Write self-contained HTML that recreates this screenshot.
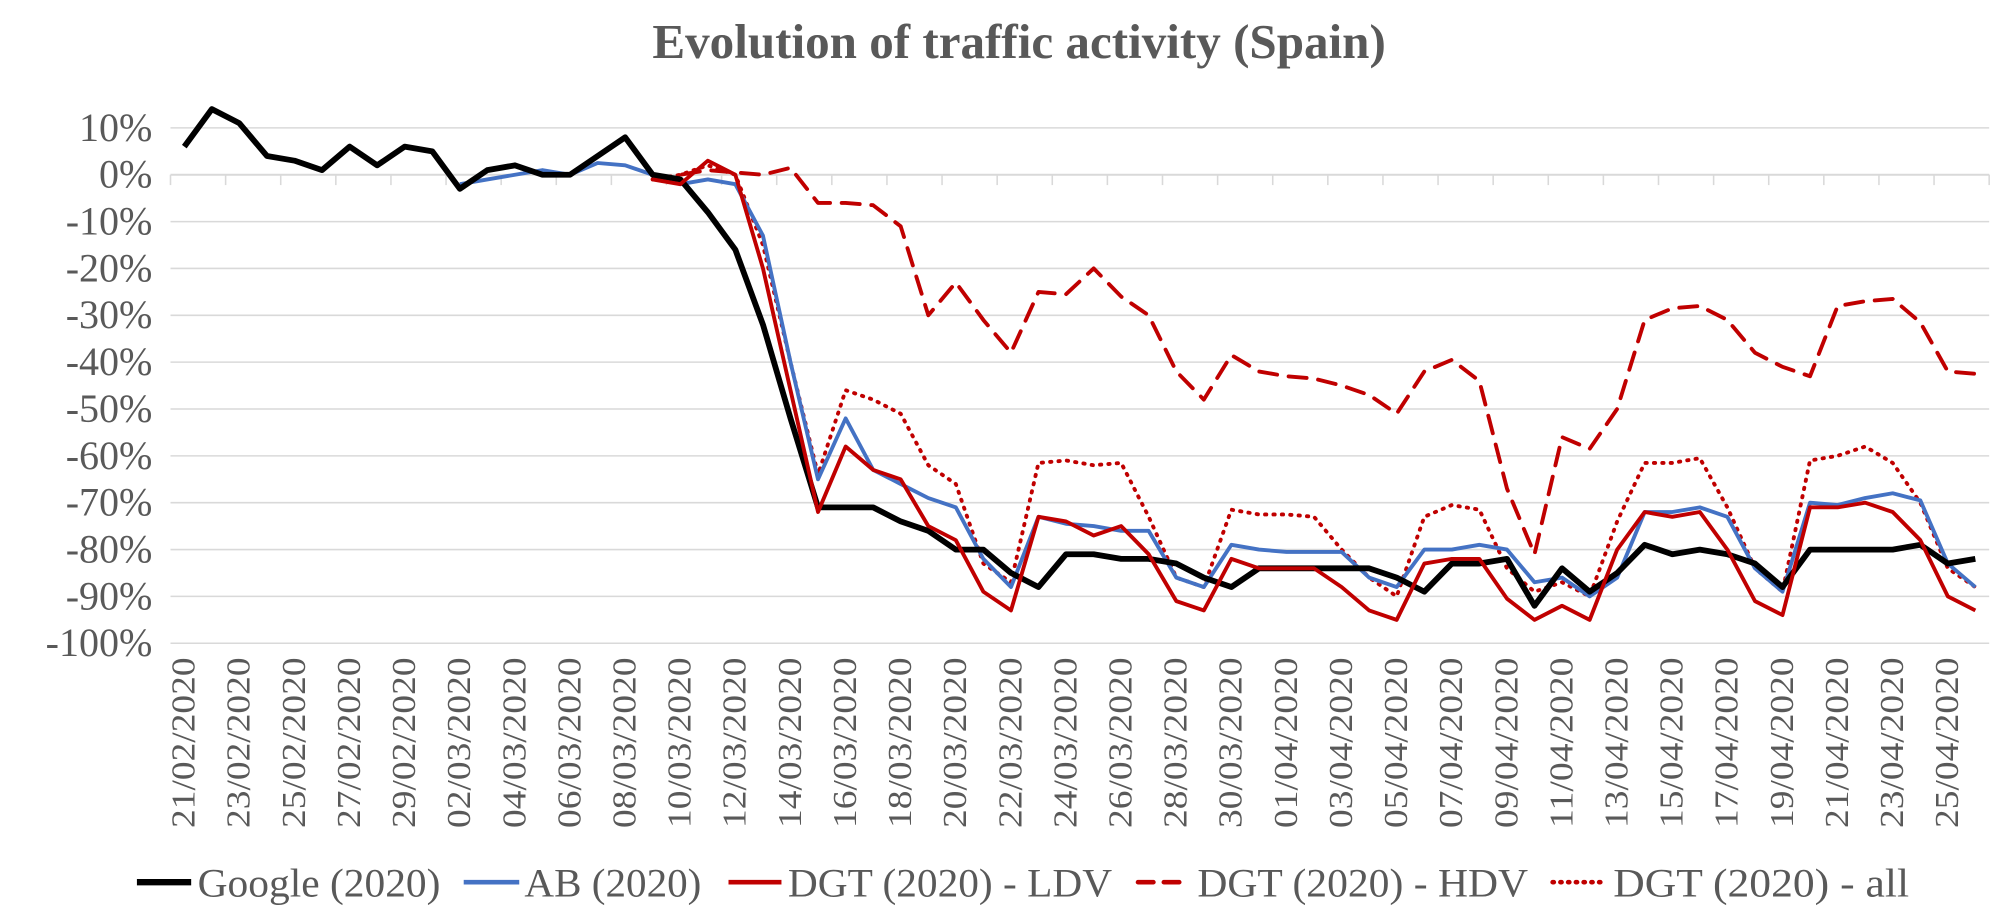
<!DOCTYPE html>
<html><head><meta charset="utf-8"><style>
html,body{margin:0;padding:0;background:#fff;}
svg{display:block;}
text{font-family:"Liberation Serif",serif;fill:#595959;}
</style></head><body>
<svg id="chart" width="2015" height="915" viewBox="0 0 1560 708.4" preserveAspectRatio="none" xmlns="http://www.w3.org/2000/svg">
<rect width="1560" height="708.4" fill="#fff"/>
<text x="789" y="45" text-anchor="middle" font-size="38" font-weight="bold">Evolution of traffic activity (Spain)</text>
<g id="grid"></g><g id="yticks"></g><g id="xaxis"></g><g id="series"></g><g id="legend"></g>
</svg>
<script>
const google=[6,14,11,4,3,1,6,2,6,5,-3,1,2,0,0,4,8,0,-1,-8,-16,-32,-52,-71,-71,-71,-74,-76,-80,-80,-85,-88,-81,-81,-82,-82,-83,-86,-88,-84,-84,-84,-84,-84,-86,-89,-83,-83,-82,-92,-84,-89,-85,-79,-81,-80,-81,-83,-88,-80,-80,-80,-80,-79,-83,-82];
const ab=[null,null,null,null,null,null,null,null,null,null,-2,-1,0,1,0,2.5,2,0,-2,-1,-2,-13,-40,-65,-52,-63,-66,-69,-71,-82,-88,-73,-74.5,-75,-76,-76,-86,-88,-79,-80,-80.5,-80.5,-80.5,-86,-88,-80,-80,-79,-80,-87,-86,-90,-86,-72,-72,-71,-73,-84,-89,-70,-70.5,-69,-68,-69.5,-83,-88];
const ldv=[null,null,null,null,null,null,null,null,null,null,null,null,null,null,null,null,null,-1,-2,3,0,-20,-46,-72,-58,-63,-65,-75,-78,-89,-93,-73,-74,-77,-75,-81,-91,-93,-82,-84,-84,-84,-88,-93,-95,-83,-82,-82,-90.5,-95,-92,-95,-80,-72,-73,-72,-80,-91,-94,-71,-71,-70,-72,-78,-90,-93];
const hdv=[null,null,null,null,null,null,null,null,null,null,null,null,null,null,null,null,null,-1,0,1,0.5,0,1.5,-6,-6,-6.5,-11,-30,-23,-31,-38,-25,-25.5,-20,-26,-30,-42,-48,-38.5,-42,-43,-43.5,-45,-47,-51,-42,-39.5,-44,-67,-81,-56,-58.5,-50,-31,-28.5,-28,-31,-38,-41,-43,-28,-27,-26.5,-31.5,-42,-42.5];
const allv=[null,null,null,null,null,null,null,null,null,null,null,null,null,null,null,null,null,-1,0,2,0,-15,-40,-64,-46,-48,-51,-62,-66,-83,-87,-61.5,-61,-62,-61.5,-73,-86,-88,-71.5,-72.5,-72.5,-73,-80,-86,-90,-73,-70.5,-71.5,-84,-89,-87,-90,-74,-61.5,-61.5,-60.5,-71,-84,-89,-61,-60,-58,-61.5,-70,-84,-88];
const yTicks=[10,0,-10,-20,-30,-40,-50,-60,-70,-80,-90,-100];
const startDate=[21,2,2020];
const NS="http://www.w3.org/2000/svg";
const N=google.length, L=132, R=1540;
const step=(R-L)/N;
const X=i=>L+step*(i+0.5);
const Y=v=>135.3-v*3.627;
function mk(tag,attrs,parent){const e=document.createElementNS(NS,tag);for(const k in attrs)e.setAttribute(k,attrs[k]);parent.appendChild(e);return e;}
const grid=document.getElementById('grid'),yt=document.getElementById('yticks'),xa=document.getElementById('xaxis'),sg=document.getElementById('series'),lg=document.getElementById('legend');
yTicks.forEach(t=>{
 const g=mk('line',{x1:L,x2:R,y1:Y(t),y2:Y(t),stroke:'#d9d9d9','stroke-width':1.2},grid);
 
 
 const tx=mk('text',{x:118,y:Y(t)+10,'text-anchor':'end','font-size':31},yt);
 tx.textContent=t+'%';
 
 
});
const dates=[];let d=new Date(startDate[2],startDate[1]-1,startDate[0]);
for(let i=0;i<N;i++){const dd=new Date(d.getTime()+i*86400000);dates.push(String(dd.getDate()).padStart(2,'0')+'/'+String(dd.getMonth()+1).padStart(2,'0')+'/'+dd.getFullYear());}
const ax=mk('line',{x1:L,x2:R,y1:Y(0),y2:Y(0),stroke:'#d9d9d9','stroke-width':1.5},xa);


for(let i=0;i<=N;i+=2){
 const tk=mk('line',{x1:L+step*i,x2:L+step*i,y1:Y(0),y2:Y(0)+8,stroke:'#d9d9d9','stroke-width':1.2},xa);
 
 
}
for(let i=0;i<N;i+=2){
 const x=X(i)+8,y=509;
 const tx=mk('text',{x:x,y:y,'text-anchor':'end','font-size':26,transform:`rotate(-90 ${x} ${y})`,textLength:132,lengthAdjust:'spacingAndGlyphs'},xa);
 tx.textContent=dates[i];
 
 
}
function path(arr){let s='',pen=false;arr.forEach((v,i)=>{if(v===null){pen=false;return;}s+=(pen?'L':'M')+X(i).toFixed(1)+' '+Y(v).toFixed(1);pen=true;});return s;}
const defs=[
 {arr:allv,color:'#c00000',w:3,dash:'1 5.5',cap:'round',name:'series-dgt-all',label:'DGT (2020) - all'},
 {arr:hdv,color:'#c00000',w:3,dash:'14 9',cap:'round',name:'series-dgt-hdv',label:'DGT (2020) - HDV'},
 {arr:ab,color:'#4472c4',w:3,dash:'',cap:'butt',name:'series-ab',label:'AB (2020)'},
 {arr:google,color:'#000',w:4.5,dash:'',cap:'butt',name:'series-google',label:'Google (2020)'},
 {arr:ldv,color:'#c00000',w:3,dash:'',cap:'butt',name:'series-dgt-ldv',label:'DGT (2020) - LDV'}
];
defs.forEach(s=>{
 const p=mk('path',{d:path(s.arr),fill:'none',stroke:s.color,'stroke-width':s.w,'stroke-linejoin':'round','stroke-linecap':s.cap},sg);
 if(s.dash)p.setAttribute('stroke-dasharray',s.dash);
 
 
});
const leg=[[3,106,148,153,188,''],[2,359,402,406,137,''],[4,564,605,610,251,''],[1,881,919,927,256,'12 8'],[0,1202,1242,1249,229,'1 5']];
leg.forEach(([k,x1,x2,tx,tl,da])=>{
 const s=defs[k];
 const g=mk('g',{},lg);
 
 
 const l=mk('line',{x1:x1,x2:x2,y1:683,y2:683,stroke:s.color,'stroke-width':s.w+0.5,'stroke-linecap':s.cap},g);
 if(da)l.setAttribute('stroke-dasharray',da);
 const t=mk('text',{x:tx,y:694,'font-size':31,textLength:tl,lengthAdjust:'spacingAndGlyphs'},g);
 t.textContent=s.label;
});
</script>
</body></html>
